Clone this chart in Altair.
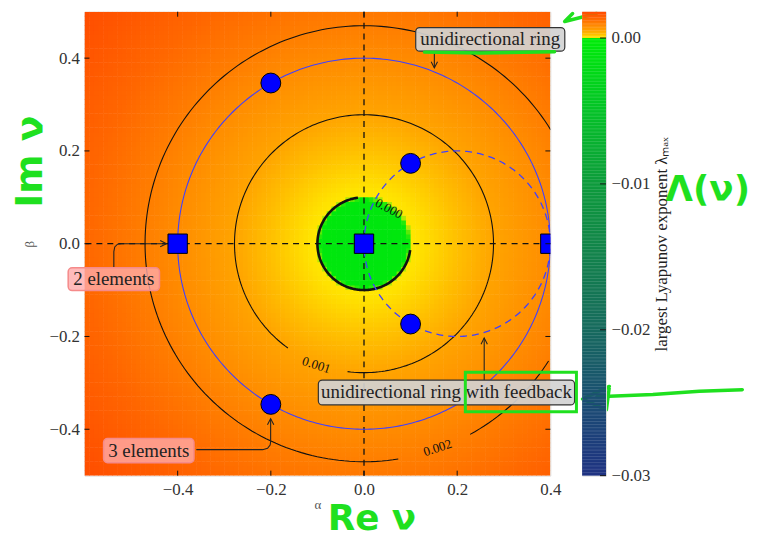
import altair as alt
import numpy as np
import pandas as pd

SERIF = "Liberation Serif"
GREEN = "#1fe01f"

# ---------------- data ----------------
X_DOMAIN = [-0.6, 0.4]
Y_DOMAIN = [-0.5, 0.5]
X_TICKS = [-0.4, -0.2, 0.0, 0.2, 0.4]
Y_TICKS = [-0.4, -0.2, 0.0, 0.2, 0.4]
CB_DOMAIN = [-0.03, 0.0018]
CB_TICKS = [-0.03, -0.02, -0.01, 0.0]

# radial profile of the largest Lyapunov exponent (radius |nu| -> lambda_max)
PROFILE_R = [0.0, 0.05, 0.09, 0.095, 0.105, 0.12, 0.2, 0.278, 0.4, 0.47, 0.6, 0.8]
PROFILE_L = [-0.0009, -0.0008, -0.0006, -0.0003, 0.00003, 0.00008, 0.0005, 0.001, 0.0016, 0.002, 0.0027, 0.0036]

COLOR_STOPS = [-0.03, -0.025, -0.02, -0.015, -0.01, -0.005, -0.0008, -0.0003,
               0.0, 0.0005, 0.001, 0.0016, 0.002, 0.0027, 0.0036]
COLOR_RANGE = ["#1f3282", "#1b4d73", "#176a5e", "#13824c", "#0e9b3c", "#05c228", "#00e60e", "#00ea0a",
               "#ffe800", "#ffc000", "#ffa400", "#ff8c00", "#ff7e00", "#ff6600", "#ff4a00"]

# eigenvalue markers
SQUARE_ALPHA = [-0.4, 0.0, 0.4]
SQUARE_BETA = [0.0, 0.0, 0.0]
CIRCLE_ALPHA = [-0.2, -0.2, 0.1, 0.1]
CIRCLE_BETA = [0.3464, -0.3464, 0.1732, -0.1732]

# rings: unidirectional ring (solid) and ring with feedback (dashed)
RING_CENTER = [0.0, 0.2]
RING_RADIUS = [0.4, 0.2]

# contour arcs (circles around the origin), angles in degrees
CONTOUR_RADIUS = [0.1, 0.278, 0.47]
CONTOUR_START = [97.5, 262.7, 299.0]
CONTOUR_END = [352.0, 594.0, 639.0]
CONTOUR_WIDTH = [2.6, 1.1, 1.1]
CLABEL_TEXT = ["0.000", "0.001", "0.002"]
CLABEL_ALPHA = [0.0533, -0.1023, 0.1578]
CLABEL_BETA = [0.0754, -0.2619, -0.4405]
CLABEL_ANGLE = [28, 18, 342]

# annotation boxes
BOX_TEXT = ["unidirectional ring", "unidirectional ring with feedback", "2 elements", "3 elements"]
BOX_A0 = [0.111, -0.098, -0.635, -0.559]
BOX_A1 = [0.431, 0.452, -0.439, -0.365]
BOX_B0 = [0.415, -0.3475, -0.101, -0.472]
BOX_B1 = [0.466, -0.294, -0.052, -0.420]
BOX_KIND = ["gray", "gray", "pink", "pink"]

# annotation arrows (shaft points) and tips
ARROW_SHAFTS = {
    "ring": [(0.151, 0.415), (0.151, 0.380)],
    "feedback": [(0.258, -0.294), (0.258, -0.204)],
    "two": [(-0.537, -0.052), (-0.537, -0.017), (-0.535, -0.007), (-0.529, -0.001), (-0.52, 0.0), (-0.425, 0.0)],
    "three": [(-0.360, -0.444), (-0.2175, -0.444), (-0.207, -0.441), (-0.2015, -0.434), (-0.2004, -0.427), (-0.2004, -0.378)],
}
ARROW_TIPS = {"ring": (0.151, 0.379, "down"), "feedback": (0.258, -0.203, "up"),
              "two": (-0.424, 0.0, "right"), "three": (-0.2004, -0.377, "up")}

# green hand-written marks
SCRIBBLE_TEXT = ["Im ν", "Re ν", "Λ(ν)"]
SCRIBBLE_ALPHA = [-0.7151, 0.017, 0.7377]
SCRIBBLE_BETA = [0.177, -0.594, 0.115]
SCRIBBLE_ANGLE = [270, 0, 0]
SCRIBBLE_SIZE = [38, 36, 36]
SCRIBBLE_LINES = {
    "top_a": [(0.4478, 0.4962), (0.4307, 0.479), (0.4989, 0.4962)],
    "right_head": [(0.5267, -0.3077), (0.4691, -0.3347), (0.5203, -0.3582), (0.5267, -0.3077)],
    "right_shaft": [(0.50, -0.330), (0.62, -0.325), (0.72, -0.318), (0.812, -0.3147)],
    "underline": [(0.130, 0.413), (0.25, 0.411), (0.409, 0.414)],
}
SCRIBBLE_BOX = [0.2175, 0.456, -0.3623, -0.2769]

# ---------------- tables ----------------
step = 0.01
na = int(round((X_DOMAIN[1] - X_DOMAIN[0]) / step))
nb = int(round((Y_DOMAIN[1] - Y_DOMAIN[0]) / step))
a0 = X_DOMAIN[0] + step * np.arange(na)
b0 = Y_DOMAIN[0] + step * np.arange(nb)
A, B = np.meshgrid(a0, b0)
R = np.hypot(A + step / 2, B + step / 2)
LAM = np.interp(R, PROFILE_R, PROFILE_L)
a1 = np.minimum(A + step * 1.12, X_DOMAIN[1])
b1 = np.minimum(B + step * 1.12, Y_DOMAIN[1])
heat = pd.DataFrame({
    "a0": A.ravel().round(4), "a1": a1.ravel().round(4),
    "b0": B.ravel().round(4), "b1": b1.ravel().round(4),
    "lam": LAM.ravel().round(6),
})

rows = []
seg = 0
for k, (rr, s, e, w) in enumerate(zip(CONTOUR_RADIUS, CONTOUR_START, CONTOUR_END, CONTOUR_WIDTH)):
    t = np.radians(np.linspace(s, e, 240))
    seg += 1
    inside_prev = True
    for i, tt in enumerate(t):
        x, y = rr * np.cos(tt), rr * np.sin(tt)
        inside = X_DOMAIN[0] <= x <= X_DOMAIN[1] + 0.002 and Y_DOMAIN[0] <= y <= Y_DOMAIN[1]
        if inside:
            if not inside_prev:
                seg += 1
            rows.append({"id": seg, "i": i, "x": x, "y": y, "w": w})
        inside_prev = inside
contours = pd.DataFrame(rows)

def ring_df(cx, rr):
    t = np.radians(np.linspace(0, 360, 361))
    return pd.DataFrame({"i": np.arange(361), "x": cx + rr * np.cos(t), "y": rr * np.sin(t)})

ring_solid = ring_df(RING_CENTER[0], RING_RADIUS[0])
ring_dash = ring_df(RING_CENTER[1], RING_RADIUS[1])

squares = pd.DataFrame({"x": SQUARE_ALPHA, "y": SQUARE_BETA})
circles = pd.DataFrame({"x": CIRCLE_ALPHA, "y": CIRCLE_BETA})

clabels = pd.DataFrame({"x": CLABEL_ALPHA, "y": CLABEL_BETA, "t": CLABEL_TEXT, "ang": CLABEL_ANGLE})

boxes = pd.DataFrame({"t": BOX_TEXT, "a0": BOX_A0, "a1": BOX_A1, "b0": BOX_B0, "b1": BOX_B1, "kind": BOX_KIND})
boxes["xc"] = (boxes.a0 + boxes.a1) / 2
boxes["yc"] = (boxes.b0 + boxes.b1) / 2

arows = []
for name, pts in ARROW_SHAFTS.items():
    for i, (x, y) in enumerate(pts):
        arows.append({"id": name, "i": i, "x": x, "y": y})
L, H = 0.0135, 0.0068
for name, (x, y, d) in ARROW_TIPS.items():
    if d == "down":
        pts = [(x - H, y + L), (x, y), (x + H, y + L)]
    elif d == "up":
        pts = [(x - H, y - L), (x, y), (x + H, y - L)]
    else:
        pts = [(x - L, y + H), (x, y), (x - L, y - H)]
    for i, (px, py) in enumerate(pts):
        arows.append({"id": name + "_head", "i": i, "x": px, "y": py})
arrows = pd.DataFrame(arows)

dxl, dyl = 5 / 469, 5 / 467
trows = []
for v in X_TICKS[:-1]:
    trows.append({"x": v, "x2": v, "y": Y_DOMAIN[0], "y2": Y_DOMAIN[0] + dyl})
    trows.append({"x": v, "x2": v, "y": Y_DOMAIN[1], "y2": Y_DOMAIN[1] - dyl})
for v in Y_TICKS:
    trows.append({"x": X_DOMAIN[0], "x2": X_DOMAIN[0] + dxl, "y": v, "y2": v})
    trows.append({"x": X_DOMAIN[1], "x2": X_DOMAIN[1] - dxl, "y": v, "y2": v})
ticks = pd.DataFrame(trows)

scrib_text = pd.DataFrame({"x": SCRIBBLE_ALPHA, "y": SCRIBBLE_BETA, "t": SCRIBBLE_TEXT,
                           "ang": SCRIBBLE_ANGLE, "s": SCRIBBLE_SIZE})
srows = []
for name, pts in SCRIBBLE_LINES.items():
    for i, (x, y) in enumerate(pts):
        srows.append({"id": name, "i": i, "x": x, "y": y})
scrib_lines = pd.DataFrame(srows)
scrib_box = pd.DataFrame({"a0": [SCRIBBLE_BOX[0]], "a1": [SCRIBBLE_BOX[1]],
                          "b0": [SCRIBBLE_BOX[2]], "b1": [SCRIBBLE_BOX[3]]})

cb_step = 0.0001
v0 = np.arange(CB_DOMAIN[0], CB_DOMAIN[1] - 1e-9, cb_step)
vc = v0 + cb_step / 2
cfac = PROFILE_L[-1] / CB_DOMAIN[1]
cbar_df = pd.DataFrame({"v0": v0.round(6), "v1": np.minimum(v0 + cb_step * 1.2, CB_DOMAIN[1]).round(6),
                        "c": np.where(vc < 0, np.minimum(vc, -0.0003), vc * cfac).round(7)})
cb_ticks = pd.DataFrame({"v": CB_TICKS})

# ---------------- scales / axes ----------------
xs = alt.Scale(domain=X_DOMAIN, nice=False, zero=False)
ys = alt.Scale(domain=Y_DOMAIN, nice=False, zero=False)
cs = alt.Scale(domain=COLOR_STOPS, range=COLOR_RANGE, interpolate="rgb", clamp=True)

xaxis = alt.Axis(values=X_TICKS, format=".1f", title="α", ticks=False, tickSize=0, domain=False,
                 grid=False, labelFlush=False, labelFont=SERIF, labelFontSize=17, labelColor="#333",
                 labelPadding=6, titleFont=SERIF, titleFontSize=13, titleColor="#555",
                 titleFontWeight="normal", titlePadding=1)
yaxis = alt.Axis(values=Y_TICKS, format=".1f", title="β", ticks=False, tickSize=0, domain=False,
                 grid=False, labelFont=SERIF, labelFontSize=17, labelColor="#333", labelPadding=5,
                 titleFont=SERIF, titleFontSize=13, titleColor="#555", titleFontWeight="normal",
                 titlePadding=12)

def X(f):
    return alt.X(f, type="quantitative", scale=xs, axis=xaxis)

def Y(f):
    return alt.Y(f, type="quantitative", scale=ys, axis=yaxis)

heat_layer = alt.Chart(heat).mark_rect(clip=True).encode(
    x=X("a0"), x2="a1", y=Y("b0"), y2="b1",
    color=alt.Color("lam:Q", scale=cs, legend=None))

contour_layer = alt.Chart(contours).mark_line(clip=True, color="#111").encode(
    x=X("x"), y=Y("y"), detail="id:N", order="i:Q",
    strokeWidth=alt.StrokeWidth("w:Q", scale=None))

axis_lines = pd.DataFrame({"v": [0.0]})
hline = alt.Chart(axis_lines).mark_rule(color="#111", strokeDash=[6, 5], strokeWidth=1.3).encode(y=Y("v"))
vline = alt.Chart(axis_lines).mark_rule(color="#111", strokeDash=[6, 5], strokeWidth=1.3).encode(x=X("v"))

ring1 = alt.Chart(ring_solid).mark_line(clip=True, color="#4040ff", strokeWidth=1.1).encode(
    x=X("x"), y=Y("y"), order="i:Q")
ring2 = alt.Chart(ring_dash).mark_line(clip=True, color="#4040ff", strokeWidth=1.3, strokeDash=[7, 5]).encode(
    x=X("x"), y=Y("y"), order="i:Q")

sq_layer = alt.Chart(squares).mark_point(shape="square", filled=True, fill="#0000ff", stroke="#000",
                                         strokeWidth=1, size=380, opacity=1, clip=True).encode(x=X("x"), y=Y("y"))
ci_layer = alt.Chart(circles).mark_point(shape="circle", filled=True, fill="#0000ff", stroke="#000",
                                         strokeWidth=1, size=400, opacity=1, clip=True).encode(x=X("x"), y=Y("y"))

arrow_layer = alt.Chart(arrows).mark_line(color="#222", strokeWidth=1.1).encode(
    x=X("x"), y=Y("y"), detail="id:N", order="i:Q")

gray_boxes = alt.Chart(boxes[boxes.kind == "gray"]).mark_rect(
    fill="#d2d2d2", fillOpacity=0.92, stroke="#333", strokeWidth=1.2, cornerRadius=4).encode(
    x=X("a0"), x2="a1", y=Y("b0"), y2="b1")
pink_boxes = alt.Chart(boxes[boxes.kind == "pink"]).mark_rect(
    fill="#ffaaaa", fillOpacity=0.8, stroke="#f58a8a", strokeWidth=1.5, cornerRadius=4).encode(
    x=X("a0"), x2="a1", y=Y("b0"), y2="b1")
box_text = alt.Chart(boxes).mark_text(font=SERIF, fontSize=19, color="#222", baseline="middle",
                                      align="center").encode(x=X("xc"), y=Y("yc"), text="t:N")

clabel_layer = alt.Chart(clabels).mark_text(font=SERIF, fontSize=13, color="#111", baseline="middle",
                                            align="center").encode(
    x=X("x"), y=Y("y"), text="t:N", angle=alt.Angle("ang:Q", scale=None))

tick_layer = alt.Chart(ticks).mark_rule(color="#111", strokeWidth=1).encode(
    x=X("x"), x2="x2", y=Y("y"), y2="y2")

scrib_t = alt.Chart(scrib_text).mark_text(font="DejaVu Sans", fontWeight="bold", color=GREEN,
                                          baseline="middle", align="center").encode(
    x=X("x"), y=Y("y"), text="t:N", angle=alt.Angle("ang:Q", scale=None),
    size=alt.Size("s:Q", scale=None))
scrib_l = alt.Chart(scrib_lines).mark_line(color=GREEN, strokeWidth=3.5, strokeCap="round",
                                           strokeJoin="round").encode(
    x=X("x"), y=Y("y"), detail="id:N", order="i:Q")
scrib_b = alt.Chart(scrib_box).mark_rect(filled=False, stroke=GREEN, strokeWidth=3).encode(
    x=X("a0"), x2="a1", y=Y("b0"), y2="b1")

main = alt.layer(
    heat_layer, contour_layer, hline, vline, ring1, ring2, sq_layer, ci_layer,
    arrow_layer, gray_boxes, pink_boxes, box_text, clabel_layer, tick_layer,
    scrib_b, scrib_l, scrib_t,
).properties(width=469, height=467)

cbs = alt.Scale(domain=CB_DOMAIN, nice=False, zero=False)
cbaxis = alt.Axis(orient="right", values=CB_TICKS, format=".2f", title="largest Lyapunov exponent λₘₐₓ",
                  titleAngle=270, titleBaseline="top", ticks=False, tickSize=0, domain=False, grid=False,
                  labelFont=SERIF, labelFontSize=17, labelColor="#333", labelPadding=5,
                  titleFont=SERIF, titleFontSize=17, titleColor="#222", titleFontWeight="normal",
                  titlePadding=4)
cbar_rect = alt.Chart(cbar_df).mark_rect().encode(
    y=alt.Y("v0:Q", scale=cbs, axis=cbaxis), y2="v1",
    color=alt.Color("c:Q", scale=cs, legend=None))
cbar_ticks = alt.Chart(cb_ticks).mark_rule(color="#111", strokeWidth=1).encode(
    y=alt.Y("v:Q", scale=cbs, axis=cbaxis), x=alt.value(18), x2=alt.value(24))
cbar = alt.layer(cbar_rect, cbar_ticks).properties(width=24, height=467)

chart = alt.hconcat(main, cbar, spacing=32, bounds="flush").properties(
    padding={"left": 3, "top": 0, "right": 0, "bottom": 0}
).configure_view(stroke="#222", strokeWidth=1.1).configure(background="white")

chart.save("out.html", embed_options={"renderer": "svg", "actions": False})
